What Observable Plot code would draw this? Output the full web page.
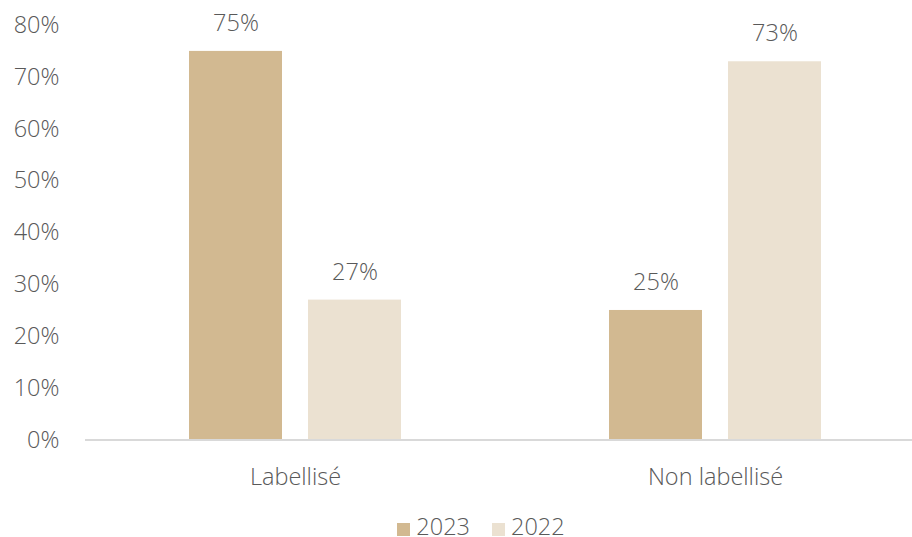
<!DOCTYPE html>
<html><head><meta charset="utf-8">
<script src="https://cdn.jsdelivr.net/npm/d3@7"></script>
<script src="https://cdn.jsdelivr.net/npm/@observablehq/plot@0.6"></script>
<style>
body{margin:0;background:#fff;font-family:"Open Sans",sans-serif;}
#chart{width:912px;}
.legend{display:flex;justify-content:center;align-items:center;padding-left:50px;margin-top:17px;font-size:23.5px;font-weight:300;color:#595959;font-family:"Open Sans",sans-serif;line-height:28px;}
.legend .item{display:flex;align-items:center;margin:0 11px;}
.legend .sw{width:13px;height:13px;margin-right:6px;margin-top:6px;}
</style></head>
<body><div id="chart"></div>
<script>
const categories = ["Labellisé", "Non labellisé"];
const series = ["2023", "2022"];
const values2023 = [75, 25];
const values2022 = [27, 73];
const colors = ["#D2B991", "#EBE1D1"];
const yTicks = [0, 10, 20, 30, 40, 50, 60, 70, 80];

const data = [];
categories.forEach((c, i) => {
  data.push({cat: c, serie: "2023", value: values2023[i]});
  data.push({cat: c, serie: "2022", value: values2022[i]});
});

const txt = "#595959";
const fs = 23.5;
const plot = Plot.plot({
  width: 912,
  height: 495,
  marginLeft: 85,
  marginRight: 0,
  marginTop: 25,
  marginBottom: 55.5,
  style: {fontFamily: "Open Sans, sans-serif", fontSize: fs + "px", fontWeight: 300, color: txt, background: "#fff"},
  fx: {domain: categories, range: [84.5, 925.5], padding: 0, label: null},
  x: {domain: series, paddingInner: 0.2167, paddingOuter: 0.8625, axis: null},
  y: {domain: [0, 80], ticks: yTicks, label: null},
  color: {domain: series, range: colors},
  marks: [
    Plot.barY(data, {fx: "cat", x: "serie", y: "value", fill: "serie"}),
    Plot.ruleY([0], {stroke: "#d9d9d9", strokeWidth: 2}),
    Plot.text(data, {fx: "cat", x: "serie", y: "value", text: d => d.value + "%", dy: -28, fill: txt, fontSize: fs, fontWeight: 300}),
    Plot.axisY(yTicks, {tickSize: 0, tickPadding: 26, tickFormat: d => d + "%", fill: txt, fontSize: fs, fontWeight: 300, label: null}),
    Plot.axisFx({anchor: "bottom", tickSize: 0, tickPadding: 28, fill: txt, fontSize: fs, fontWeight: 300, label: null})
  ]
});
document.getElementById("chart").appendChild(plot);

const legend = document.createElement("div");
legend.className = "legend";
series.forEach((s, i) => {
  const it = document.createElement("div");
  it.className = "item";
  const sw = document.createElement("div");
  sw.className = "sw";
  sw.style.background = colors[i];
  const t = document.createElement("span");
  t.textContent = s;
  it.appendChild(sw); it.appendChild(t);
  legend.appendChild(it);
});
document.getElementById("chart").appendChild(legend);
</script></body></html>
